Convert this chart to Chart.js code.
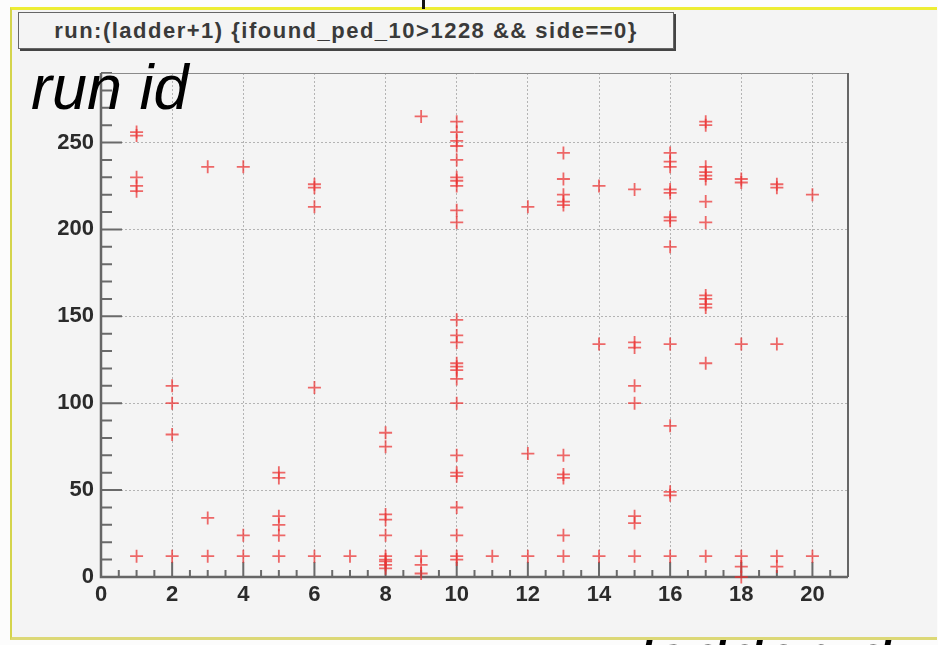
<!DOCTYPE html>
<html>
<head>
<meta charset="utf-8">
<title>run vs ladder</title>
<script src="https://cdn.jsdelivr.net/npm/chart.js@4.4.0/dist/chart.umd.min.js"></script>
<style>
  html, body { margin: 0; padding: 0; }
  body {
    width: 938px; height: 645px; position: relative; overflow: hidden;
    background: #fcfcfc; font-family: "Liberation Sans", Arial, sans-serif;
  }
  #xname {
    position: absolute; left: 638px; top: 624px;
    font-style: italic; font-size: 66px; line-height: 1; color: #000; white-space: nowrap;
  }
  #pad {
    position: absolute; left: 10px; top: 7px; width: 925px; height: 627px;
    background: #f4f4f4;
    border-top: 3px solid #eded34;
    border-left: 2px solid #d4d44c;
    border-bottom: 3px solid #dcd876;
  }
  #mark { position: absolute; left: 422px; top: 0; width: 3px; height: 9px; background: #111; }
  #title {
    position: absolute; left: 18px; top: 12px; width: 654px; height: 35px;
    border: 1px solid #666; box-shadow: 2px 2px 0 #444; background: #f4f4f4;
    text-align: center; line-height: 35px; font-weight: bold; font-size: 22px;
    letter-spacing: 1.5px; color: #3a3a3a; white-space: nowrap;
  }
  #chart { position: absolute; left: 20px; top: 50px; }
  #yname {
    position: absolute; left: 31px; top: 56px;
    font-style: italic; font-size: 63px; line-height: 1; color: #000; white-space: nowrap;
  }
</style>
</head>
<body>
<div id="xname">ladder id</div>
<div id="pad"></div>
<div id="mark"></div>
<div id="title">run:(ladder+1) {ifound_ped_10&gt;1228 &amp;&amp; side==0}</div>
<canvas id="chart" width="900" height="570"></canvas>
<div id="yname">run id</div>
<script>
// ladder number (ladder+1) and the run ids found on each ladder
const ladders = [1, 2, 3, 4, 5, 6, 7, 8, 9, 10, 11, 12, 13, 14, 15, 16, 17, 18, 19, 20];
const runIds = [
  [12, 222, 225, 230, 254, 256],
  [12, 82, 100, 110],
  [12, 34, 236],
  [12, 24, 236],
  [12, 24, 30, 35, 57, 60],
  [12, 109, 213, 224, 226],
  [12],
  [5, 7, 9, 10, 12, 24, 33, 36, 75, 83],
  [2, 7, 12, 265],
  [10, 12, 24, 40, 58, 60, 70, 100, 114, 119, 121, 123, 135, 139, 148,
   204, 211, 225, 228, 230, 240, 248, 251, 256, 262],
  [12],
  [12, 71, 213],
  [12, 24, 57, 59, 70, 214, 216, 220, 229, 244],
  [12, 134, 225],
  [12, 31, 35, 100, 110, 132, 135, 223],
  [12, 47, 49, 87, 134, 190, 205, 207, 221, 223, 236, 239, 244],
  [12, 123, 155, 157, 160, 162, 204, 216, 229, 231, 233, 236, 260, 262],
  [0, 6, 12, 134, 227, 229],
  [6, 12, 134, 224, 226],
  [12, 220]
];

// axis ranges and labelled (major) divisions
const xRange = [0, 21];
const yRange = [0, 290];
const xMajor = 2, xMinor = 0.5;
const yMajor = 50, yMinor = 10;

const points = [];
ladders.forEach((l, i) => runIds[i].forEach(r => points.push({ x: l, y: r })));

const labelFont = { family: '"Liberation Sans", Arial, sans-serif', size: 22, weight: 'bold' };
const isMajor = (v, step) => Math.abs(v / step - Math.round(v / step)) < 1e-6;

// ROOT style frame: ticks pointing inward, darker left/bottom axes
const rootFrame = {
  id: 'rootFrame',
  beforeDatasetsDraw(chart) {
    const { ctx, chartArea: a, scales: { x, y } } = chart;
    ctx.save();
    ctx.strokeStyle = '#6a6a6a';
    ctx.lineWidth = 2;
    ctx.beginPath();
    y.ticks.forEach(t => {
      const py = y.getPixelForValue(t.value);
      const len = isMajor(t.value, yMajor) ? 21 : 11;
      ctx.moveTo(a.left, py);
      ctx.lineTo(a.left + len, py);
    });
    x.ticks.forEach(t => {
      const px = x.getPixelForValue(t.value);
      const len = isMajor(t.value, xMajor) ? 15 : 7;
      ctx.moveTo(px, a.bottom);
      ctx.lineTo(px, a.bottom - len);
    });
    ctx.stroke();

    ctx.strokeStyle = '#8a8a8a';
    ctx.lineWidth = 1;
    ctx.beginPath();
    ctx.moveTo(a.left, a.top + 0.5);
    ctx.lineTo(a.right, a.top + 0.5);
    ctx.stroke();

    ctx.strokeStyle = '#666';
    ctx.lineWidth = 2;
    ctx.beginPath();
    ctx.moveTo(a.right, a.top);
    ctx.lineTo(a.right, a.bottom);
    ctx.stroke();

    ctx.lineWidth = 2.5;
    ctx.beginPath();
    ctx.moveTo(a.left, a.top);
    ctx.lineTo(a.left, a.bottom);
    ctx.lineTo(a.right, a.bottom);
    ctx.stroke();
    ctx.restore();
  }
};

new Chart(document.getElementById('chart'), {
  type: 'scatter',
  data: {
    datasets: [{
      data: points,
      pointStyle: 'cross',
      pointRadius: 6.5,
      pointHoverRadius: 6.5,
      borderWidth: 1.8,
      borderColor: 'rgba(234, 48, 48, 0.72)',
      backgroundColor: 'rgba(234, 48, 48, 0.72)',
      clip: false
    }]
  },
  options: {
    responsive: false,
    animation: false,
    events: [],
    layout: { padding: { top: 23, right: 72, left: 0, bottom: 0 } },
    plugins: { legend: { display: false }, tooltip: { enabled: false } },
    scales: {
      x: {
        type: 'linear',
        min: xRange[0],
        max: xRange[1],
        afterFit: s => { s.height = 43; },
        ticks: {
          stepSize: xMinor,
          autoSkip: false,
          maxRotation: 0,
          padding: 5,
          color: '#2b2b2b',
          font: labelFont,
          callback: v => isMajor(v, xMajor) ? String(v) : ''
        },
        grid: {
          drawTicks: false,
          lineWidth: 1,
          color: c => (c.tick && isMajor(c.tick.value, xMajor)) ? '#b4b4b4' : 'rgba(0,0,0,0)'
        },
        border: { display: false, dash: [2, 2] }
      },
      y: {
        type: 'linear',
        min: yRange[0],
        max: yRange[1],
        afterFit: s => { s.width = 81; },
        ticks: {
          stepSize: yMinor,
          autoSkip: false,
          padding: 7,
          color: '#2b2b2b',
          font: labelFont,
          callback: v => isMajor(v, yMajor) ? String(v) : ''
        },
        grid: {
          drawTicks: false,
          lineWidth: 1,
          color: c => (c.tick && isMajor(c.tick.value, yMajor)) ? '#b4b4b4' : 'rgba(0,0,0,0)'
        },
        border: { display: false, dash: [2, 2] }
      }
    }
  },
  plugins: [rootFrame]
});
</script>
</body>
</html>
